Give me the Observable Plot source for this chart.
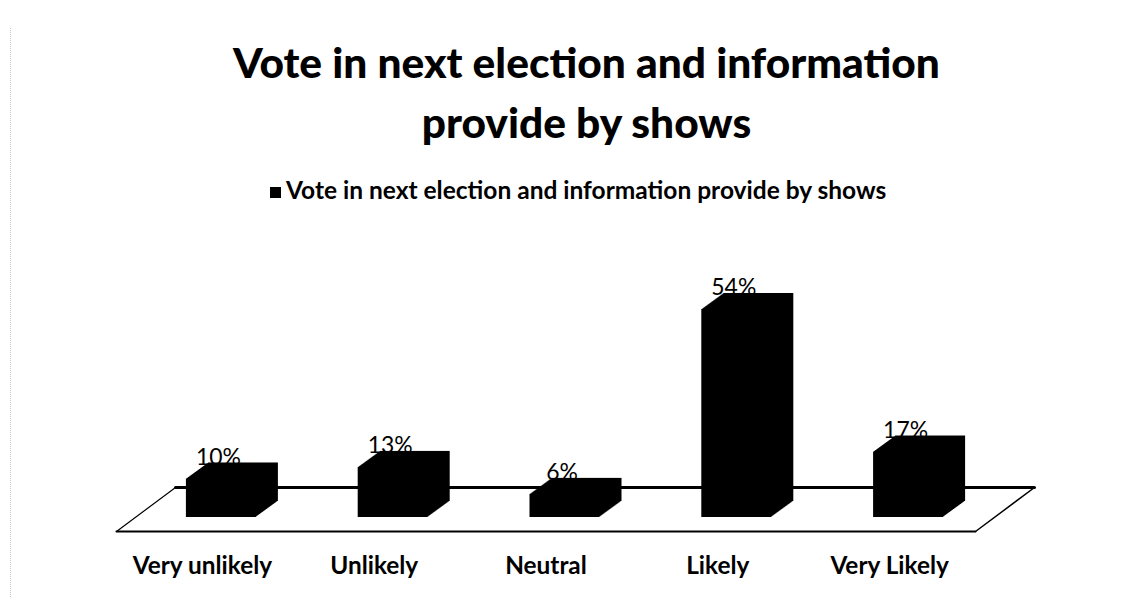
<!DOCTYPE html>
<html>
<head>
<meta charset="utf-8">
<script src="https://cdn.jsdelivr.net/npm/d3@7"></script>
<script src="https://cdn.jsdelivr.net/npm/@observablehq/plot@0.6"></script>
<style>
  html, body { margin: 0; padding: 0; background: #fff; }
  #wrap { position: relative; width: 1129px; height: 597px; overflow: hidden; }
  #edge { position: absolute; left: 10px; top: 28px; height: 569px; border-left: 1px dotted #c8c8c8; }
  #header, #chart { position: absolute; left: 0; }
  #header { top: 0; }
  #chart { top: 210px; }
</style>
</head>
<body>
<div id="wrap">
  <div id="edge"></div>
  <div id="header"></div>
  <div id="chart"></div>
</div>
<script>
// ---- data ----
const titleLines = ["Vote in next election and information", "provide by shows"];
const seriesName = "Vote in next election and information provide by shows";
const categories = ["Very unlikely", "Unlikely", "Neutral", "Likely", "Very Likely"];
const values = [10, 13, 6, 54, 17];
const valueLabels = ["10%", "13%", "6%", "54%", "17%"];

const data = categories.map((c, i) => ({i, category: c, value: values[i], label: valueLabels[i]}));

// ---- font fitting helper ----
const FAMILY = "Lato, 'Open Sans', sans-serif";
const ctx = document.createElement("canvas").getContext("2d");
function fit(text, weight, target) {
  ctx.font = `${weight} 100px ${FAMILY}`;
  return 100 * target / ctx.measureText(text).width;
}

// ---- header (title + legend) ----
const W = 1129;
const header = d3.select("#header").append("svg").attr("width", W).attr("height", 210);
const tSize = fit(titleLines[0], 900, 707);
header.selectAll("text.title").data(titleLines).join("text")
  .attr("class", "title")
  .attr("x", 586.5)
  .attr("y", (d, k) => 78 + k * 60)
  .attr("text-anchor", "middle")
  .style("font-family", FAMILY)
  .style("font-weight", 900)
  .style("font-size", tSize + "px")
  .attr("fill", "#000")
  .text(d => d);
header.append("rect").attr("x", 270).attr("y", 187).attr("width", 11).attr("height", 11).attr("fill", "#000");
header.append("text")
  .attr("x", 286).attr("y", 199)
  .style("font-family", FAMILY)
  .style("font-weight", 700)
  .style("font-size", fit(seriesName, 700, 601) + "px")
  .attr("fill", "#000")
  .text(seriesName);

// ---- chart ----
const H = 387, mL = 116, mR = 154, mT = 37.36, mB = 80;
const yMax = 70;
const pxX = (W - mL - mR) / categories.length;   // px per category unit
const pxY = (H - mB - mT) / yMax;                 // px per percentage point

const half = 35 / pxX;            // half width of bar front face (units)
const shift = 19;                 // bar front face depth shift (px)
const depthX = 22, depthY = 16;   // bar depth (px)

// floor (in data units, derived from pixel depth)
const floorFront = -14 / pxY, floorBack = 30 / pxY, floorDX = 59 / pxX;
const x0 = -0.5, x1 = categories.length - 0.5;
const frontEdge = [{x: x0, y: floorFront}, {x: x1, y: floorFront}];
const backEdge = [{x: x0 + floorDX, y: floorBack}, {x: x1 + floorDX, y: floorBack}];
const leftEdge = [{x: x0, y: floorFront}, {x: x0 + floorDX, y: floorBack}];
const rightEdge = [{x: x1, y: floorFront}, {x: x1 + floorDX, y: floorBack}];

const barLayers = d3.range(0, depthX + 1).map(k =>
  Plot.rectY(data, {
    x1: d => d.i - half, x2: d => d.i + half, y1: 0, y2: "value",
    dx: shift + k, dy: -k * depthY / depthX,
    fill: "#000"
  })
);

const labSize = fit("Very unlikely", 700, 140);
const valSize = fit("10%", 400, 45);

const chart = Plot.plot({
  width: W, height: H,
  marginLeft: mL, marginRight: mR, marginTop: mT, marginBottom: mB,
  x: {type: "linear", domain: [x0, x1], axis: null},
  y: {domain: [0, yMax], axis: null},
  style: {fontFamily: FAMILY, background: "transparent"},
  marks: [
    Plot.line(backEdge, {x: "x", y: "y", stroke: "#000", strokeWidth: 3}),
    Plot.line(frontEdge, {x: "x", y: "y", stroke: "#000", strokeWidth: 2}),
    Plot.line(leftEdge, {x: "x", y: "y", stroke: "#000", strokeWidth: 1.2}),
    Plot.line(rightEdge, {x: "x", y: "y", stroke: "#000", strokeWidth: 1.5}),
    ...barLayers,
    Plot.text(data, {
      x: "i", y: "value", text: "label",
      dx: shift - 3, dy: -depthY + 2, lineAnchor: "bottom",
      fontSize: valSize, fill: "#000"
    }),
    Plot.text(data, {
      x: "i", y: 0, text: "category",
      dy: 49, lineAnchor: "middle",
      fontSize: labSize, fontWeight: 700, fill: "#000"
    })
  ]
});
document.getElementById("chart").appendChild(chart);
</script>
</body>
</html>
